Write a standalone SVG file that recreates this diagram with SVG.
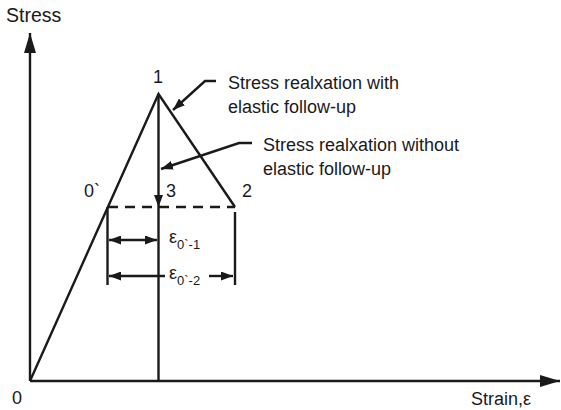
<svg xmlns="http://www.w3.org/2000/svg" width="561" height="410" viewBox="0 0 561 410">
<defs>
<style>
.ln{stroke:#1a1a1a;stroke-width:2.4;fill:none}
.t{font-family:"Liberation Sans",Arial,sans-serif;font-size:18px;fill:#1a1a1a}
.s{font-family:"Liberation Sans",Arial,sans-serif;font-size:13px;fill:#1a1a1a}
</style>
<marker id="ah" viewBox="0 0 12 9" refX="12" refY="4.5" markerWidth="12" markerHeight="9" markerUnits="userSpaceOnUse" orient="auto-start-reverse">
<path d="M0,0 L12,4.5 L0,9 Z" fill="#1a1a1a"/>
</marker>
<marker id="big" viewBox="0 0 20 12" refX="20" refY="6" markerWidth="20" markerHeight="12" markerUnits="userSpaceOnUse" orient="auto">
<path d="M0,0 L20,6 L0,12 Z" fill="#1a1a1a"/>
</marker>
</defs>
<g id="axes">
<line class="ln" x1="30" y1="381" x2="30" y2="33" marker-end="url(#big)"/>
<line class="ln" x1="30" y1="381" x2="560" y2="381" marker-end="url(#big)"/>
<text class="t" x="6" y="22" style="font-size:19.5px">Stress</text>
<text class="t" x="12" y="404">0</text>
<text class="t" x="471" y="405">Strain,ε</text>
</g>
<g id="curve">
<polyline class="ln" points="30,381 158.5,94 235,207"/>
<line class="ln" x1="108" y1="207" x2="235" y2="207" stroke-dasharray="10,7"/>
</g>
<g id="connectors">
<line class="ln" x1="158.5" y1="94" x2="158.5" y2="207" marker-end="url(#ah)"/>
<line class="ln" x1="158.5" y1="207" x2="158.5" y2="381"/>
<line class="ln" x1="107.5" y1="207" x2="107.5" y2="285"/>
<line class="ln" x1="235" y1="212" x2="235" y2="285"/>
<line class="ln" x1="109" y1="240" x2="157" y2="240" marker-start="url(#ah)" marker-end="url(#ah)"/>
<line class="ln" x1="109" y1="276" x2="165" y2="276" marker-start="url(#ah)"/>
<line class="ln" x1="209" y1="276" x2="233" y2="276" marker-end="url(#ah)"/>
<polyline class="ln" points="216,81 205,81 173,110" marker-end="url(#ah)"/>
<polyline class="ln" points="252,143 239,143 161,169" marker-end="url(#ah)"/>
</g>
<g id="labels">
<text class="t" x="153" y="83">1</text>
<text class="t" x="84" y="197">0`</text>
<text class="t" x="166" y="197">3</text>
<text class="t" x="242" y="197">2</text>
<text class="t" x="228" y="89">Stress realxation with</text>
<text class="t" x="228" y="113">elastic follow-up</text>
<text class="t" x="263" y="151">Stress realxation without</text>
<text class="t" x="263" y="175">elastic follow-up</text>
<text class="t" x="169" y="243">ε<tspan class="s" dy="6">0`-1</tspan></text>
<text class="t" x="169" y="279">ε<tspan class="s" dy="6">0`-2</tspan></text>
</g>
</svg>
